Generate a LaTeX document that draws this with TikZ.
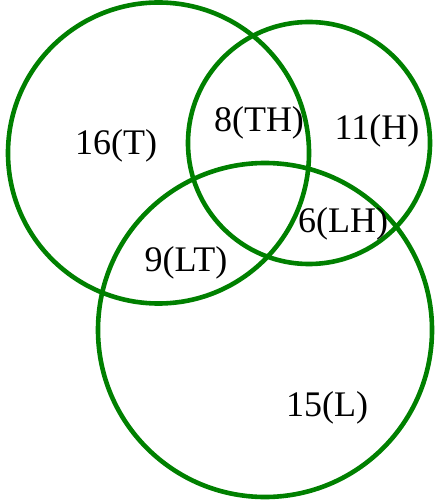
\documentclass[tikz,border=0pt]{standalone}
\usepackage{fontspec}
\setmainfont{Liberation Serif}
\usepackage{xcolor}
\definecolor{venngreen}{RGB}{0,128,0}

\tikzset{
    setcircle/.style={draw=venngreen, line width=4.6pt},
    countlabel/.style={anchor=base, inner sep=0pt, font=\fontsize{36}{42}\selectfont}
}

\begin{document}
\begin{tikzpicture}[x=1pt, y=-1pt]
    \useasboundingbox (0,0) rectangle (437,502);

    % Circles
    \draw[setcircle] (158.5,153) circle (150.5);   % T
    \draw[setcircle] (309,143) circle (121);       % H
    \draw[setcircle] (265,330) circle (167);       % L

    % Region counts
    \node[countlabel] (t)  at (116,155) {16(T)};
    \node[countlabel] (th) at (259,132) {8(TH)};
    \node[countlabel] (h)  at (377,140) {11(H)};
    \node[countlabel] (lh) at (343,233) {6(LH)};
    \node[countlabel] (lt) at (186,271) {9(LT)};
    \node[countlabel] (l)  at (327,416) {15(L)};

\end{tikzpicture}
\end{document}
